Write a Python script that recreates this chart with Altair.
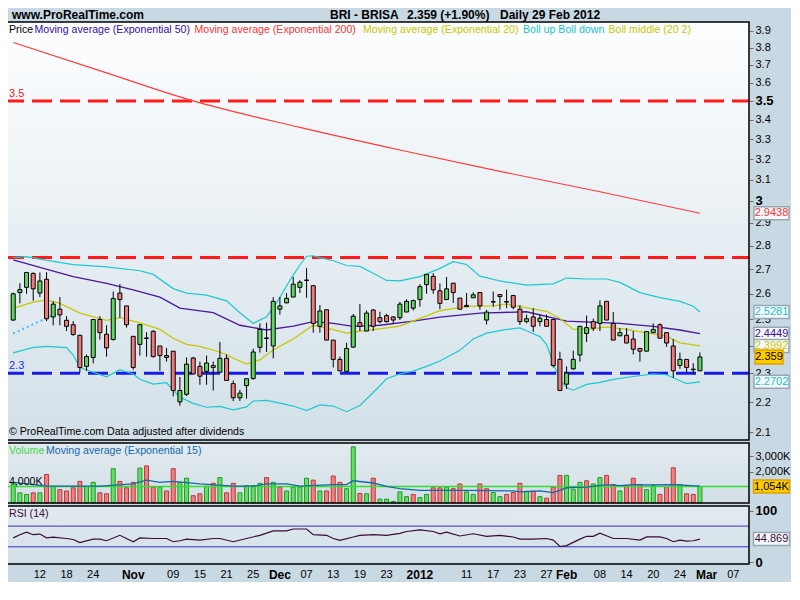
import altair as alt
import pandas as pd

FONT = "Liberation Sans"
BG = "#c9d9e3"

# ------------------------------------------------------------------
# trading-day number t : 0 = 12 Oct 2011 ... 99 = 29 Feb 2012
# (Lisbon closed 26 Dec 2011); 100 = 1 Mar 2012, 104 = 7 Mar 2012
# ------------------------------------------------------------------
day = list(range(-4, 100))

opens = [
    2.497, 2.605, 2.626, 2.683, 2.603, 2.659, 2.509, 2.539, 2.496, 2.479,
    2.439, 2.325, 2.357, 2.499, 2.443, 2.423, 2.603, 2.552, 2.435, 2.405,
    2.427, 2.454, 2.399, 2.364, 2.380, 2.201, 2.227, 2.355, 2.325, 2.307,
    2.321, 2.304, 2.354, 2.264, 2.215, 2.257, 2.282, 2.394, 2.427, 2.399,
    2.539, 2.564, 2.587, 2.626, 2.654, 2.633, 2.473, 2.537, 2.421, 2.350,
    2.307, 2.395, 2.487, 2.455, 2.536, 2.506, 2.514, 2.509, 2.506, 2.528,
    2.543, 2.577, 2.637, 2.671, 2.612, 2.577, 2.643, 2.583, 2.554, 2.584,
    2.605, 2.497, 2.567, 2.597, 2.569, 2.593, 2.539, 2.491, 2.509, 2.491,
    2.499, 2.499, 2.350, 2.262, 2.316, 2.366, 2.446, 2.491, 2.484, 2.570,
    2.484, 2.437, 2.439, 2.425, 2.390, 2.380, 2.449, 2.479, 2.449, 2.399,
    2.328, 2.350, 2.313, 2.309]
highs = [
    2.605, 2.643, 2.687, 2.687, 2.687, 2.688, 2.570, 2.587, 2.512, 2.493,
    2.439, 2.368, 2.499, 2.512, 2.477, 2.609, 2.639, 2.552, 2.435, 2.479,
    2.451, 2.458, 2.399, 2.392, 2.380, 2.287, 2.357, 2.359, 2.342, 2.364,
    2.342, 2.414, 2.368, 2.275, 2.242, 2.281, 2.389, 2.484, 2.487, 2.587,
    2.587, 2.603, 2.668, 2.655, 2.705, 2.633, 2.555, 2.537, 2.421, 2.360,
    2.411, 2.520, 2.559, 2.534, 2.539, 2.529, 2.521, 2.512, 2.568, 2.578,
    2.577, 2.639, 2.679, 2.684, 2.642, 2.668, 2.643, 2.583, 2.603, 2.606,
    2.606, 2.537, 2.609, 2.597, 2.617, 2.593, 2.555, 2.518, 2.543, 2.518,
    2.518, 2.499, 2.378, 2.325, 2.382, 2.473, 2.514, 2.502, 2.574, 2.570,
    2.528, 2.466, 2.466, 2.455, 2.390, 2.453, 2.484, 2.484, 2.449, 2.425,
    2.375, 2.350, 2.336, 2.375]
lows = [
    2.494, 2.562, 2.600, 2.572, 2.587, 2.493, 2.477, 2.477, 2.455, 2.437,
    2.304, 2.309, 2.336, 2.423, 2.360, 2.419, 2.506, 2.468, 2.313, 2.364,
    2.360, 2.357, 2.309, 2.342, 2.220, 2.188, 2.221, 2.295, 2.260, 2.260,
    2.240, 2.304, 2.275, 2.204, 2.204, 2.212, 2.277, 2.375, 2.377, 2.354,
    2.518, 2.562, 2.587, 2.603, 2.584, 2.449, 2.449, 2.421, 2.321, 2.307,
    2.307, 2.392, 2.455, 2.455, 2.455, 2.484, 2.487, 2.484, 2.497, 2.528,
    2.534, 2.549, 2.600, 2.600, 2.539, 2.577, 2.564, 2.539, 2.547, 2.584,
    2.537, 2.480, 2.549, 2.537, 2.543, 2.539, 2.478, 2.484, 2.452, 2.473,
    2.473, 2.321, 2.240, 2.245, 2.313, 2.342, 2.414, 2.455, 2.455, 2.497,
    2.421, 2.437, 2.410, 2.368, 2.342, 2.380, 2.449, 2.428, 2.396, 2.284,
    2.316, 2.304, 2.298, 2.309]
closes = [
    2.600, 2.617, 2.687, 2.620, 2.652, 2.502, 2.559, 2.517, 2.473, 2.442,
    2.321, 2.360, 2.499, 2.449, 2.392, 2.581, 2.577, 2.479, 2.321, 2.479,
    2.429, 2.360, 2.364, 2.357, 2.240, 2.240, 2.333, 2.298, 2.290, 2.337,
    2.328, 2.354, 2.275, 2.215, 2.231, 2.281, 2.377, 2.461, 2.429, 2.570,
    2.552, 2.582, 2.639, 2.647, 2.656, 2.484, 2.532, 2.421, 2.350, 2.309,
    2.390, 2.512, 2.473, 2.524, 2.473, 2.491, 2.491, 2.497, 2.559, 2.570,
    2.573, 2.629, 2.679, 2.616, 2.562, 2.620, 2.605, 2.539, 2.549, 2.596,
    2.552, 2.528, 2.569, 2.589, 2.567, 2.547, 2.491, 2.502, 2.473, 2.504,
    2.473, 2.328, 2.240, 2.301, 2.350, 2.473, 2.468, 2.466, 2.552, 2.497,
    2.421, 2.449, 2.410, 2.387, 2.380, 2.453, 2.461, 2.428, 2.410, 2.309,
    2.350, 2.321, 2.315, 2.359]

# volume in thousands of shares and bar colour (g = up, r = down)
volume_k = [
    1320, 650, 548, 650, 650, 1827, 1056, 853, 771, 974,
    1380, 1056, 1320, 650, 589, 2192, 1380, 974, 1320, 2233,
    2375, 1015, 1015, 771, 2192, 1320, 1583, 467, 589, 1076,
    1259, 1624, 650, 1259, 650, 1117, 1117, 1259, 1624, 1320,
    1015, 771, 1015, 1015, 1583, 1462, 771, 771, 1726, 1320,
    914, 3593, 609, 589, 1583, 244, 244, 102, 711, 406,
    548, 345, 548, 974, 974, 1015, 914, 1218, 711, 548,
    1218, 914, 670, 406, 548, 670, 1259, 751, 751, 406,
    305, 1015, 1766, 1766, 873, 1320, 1421, 1218, 1624, 1766,
    1177, 771, 1117, 1583, 1177, 853, 1117, 548, 1056, 2253,
    1177, 589, 548, 1054]
volume_dir = ("g g g r g r g r r r "
              "r g g r r g r r r g "
              "r r g r r g g r r g "
              "r g r r g g g g r g "
              "r g g g g r g r r r "
              "g g r g r g g g g g "
              "r g g r r g r r g g "
              "r r g g r r r g r g "
              "r r r g g g r g g r "
              "r g r r r g g r r r "
              "g r r g").split()

# indicator lines read at sample days
ema200_t = [-4, 10, 23, 39, 54, 69, 84, 99]
ema200_v = [3.830, 3.655, 3.500, 3.360, 3.245, 3.140, 3.043, 2.9438]

ema50_t = [-4, 0, 5, 10, 14, 18, 21, 26, 30, 34, 38, 41, 44, 47, 51, 56, 60, 66,
           73, 79, 87, 92, 96, 99]
ema50_v = [2.740, 2.708, 2.670, 2.642, 2.616, 2.587, 2.543, 2.526, 2.477, 2.459,
           2.474, 2.491, 2.484, 2.473, 2.477, 2.493, 2.508, 2.524, 2.529, 2.493,
           2.484, 2.473, 2.459, 2.4449]

ema20_t = [-4, -1, 1, 3, 6, 10, 12, 15, 18, 20, 22, 24, 27, 31, 33, 35, 38, 41, 44,
           46, 50, 54, 57, 60, 64, 68, 70, 73, 76, 78, 80, 83, 85, 88, 91, 94, 96, 99]
ema20_v = [2.542, 2.567, 2.576, 2.562, 2.524, 2.496, 2.506, 2.486, 2.461, 2.428,
           2.405, 2.398, 2.377, 2.333, 2.348, 2.385, 2.425, 2.477, 2.460, 2.447,
           2.460, 2.474, 2.503, 2.533, 2.550, 2.552, 2.559, 2.544, 2.531, 2.503,
           2.461, 2.463, 2.471, 2.461, 2.448, 2.436, 2.411, 2.3992]

boll_up_t = [-4, -2, 0, 5, 10, 15, 17, 20, 22, 25, 28, 30, 32, 34, 35, 36, 37, 38,
             39, 40, 41, 42, 44, 46, 48, 50, 52, 54, 57, 60, 62, 64, 66, 69, 73, 77,
             79, 82, 85, 87, 90, 93, 96, 98, 99]
boll_up_v = [2.749, 2.753, 2.743, 2.720, 2.710, 2.694, 2.679, 2.621, 2.603, 2.595,
             2.572, 2.525, 2.484, 2.510, 2.545, 2.585, 2.632, 2.676, 2.718, 2.755,
             2.757, 2.749, 2.736, 2.716, 2.712, 2.684, 2.654, 2.652, 2.670, 2.704,
             2.732, 2.720, 2.672, 2.652, 2.635, 2.640, 2.664, 2.660, 2.660, 2.646,
             2.605, 2.585, 2.570, 2.551, 2.5281]

boll_dn_t = [-4, -1, 1, 4, 5, 6, 8, 10, 12, 14, 15, 17, 19, 21, 23, 25, 27, 29, 31,
             32, 34, 36, 38, 40, 42, 44, 46, 48, 50, 52, 54, 56, 58, 60, 63, 65, 67,
             70, 72, 73, 75, 76, 77, 78, 79, 80, 82, 84, 86, 89, 92, 94, 96, 97, 99]
boll_dn_v = [2.374, 2.394, 2.398, 2.393, 2.366, 2.321, 2.304, 2.288, 2.313, 2.298,
             2.279, 2.262, 2.267, 2.217, 2.196, 2.183, 2.186, 2.174, 2.184, 2.204,
             2.206, 2.197, 2.187, 2.172, 2.191, 2.187, 2.168, 2.189, 2.233, 2.281,
             2.298, 2.308, 2.325, 2.344, 2.383, 2.425, 2.447, 2.461, 2.467, 2.456,
             2.434, 2.404, 2.336, 2.277, 2.250, 2.241, 2.261, 2.268, 2.279, 2.289,
             2.298, 2.295, 2.274, 2.264, 2.2702]

boll_mid_t = [-4, 3]
boll_mid_v = [2.446, 2.528]

volema_t = [-4, 1, 9, 14, 16, 18, 20, 24, 29, 32, 34, 37, 39, 44, 46, 47, 50, 52, 54,
            57, 64, 71, 72, 75, 77, 78, 79, 82, 85, 87, 89, 91, 95, 99]
volema_v = [1320, 1076, 1076, 1218, 1462, 1320, 1380, 1218, 1076, 1076, 1218, 1218,
            1076, 1177, 1177, 1421, 1279, 1056, 914, 812, 812, 771, 711, 771, 670,
            812, 974, 1015, 1177, 1117, 1177, 1157, 1177, 1076]

rsi_t = [-4, -3, -2, -1, 0, 1, 2, 4, 5, 6, 8, 9, 10, 12, 14, 15, 17, 19, 20, 21, 22,
         24, 26, 27, 29, 31, 33, 34, 35, 37, 38, 40, 41, 43, 44, 45, 47, 48, 50, 52,
         54, 55, 57, 59, 60, 61, 63, 65, 67, 69, 71, 72, 74, 76, 77, 78, 79, 81, 82,
         83, 84, 86, 88, 90, 91, 93, 94, 95, 96, 97, 98, 99]
rsi_v = [47.2, 53.4, 58.3, 53.4, 54.6, 47.2, 48.5, 46, 44.1, 38, 44.8, 44.8, 41.7,
         52.2, 39.8, 47.2, 46, 46, 39.8, 41.7, 44.8, 43, 46, 46, 39.8, 46, 52.2, 56.5,
         60.7, 60.7, 64.4, 64.4, 53.4, 52.2, 46, 42.3, 49, 52.2, 53.4, 52.2, 56, 59.6,
         62.6, 59.6, 55.2, 58.3, 50.9, 55.2, 50.3, 52.2, 49, 44.8, 44.8, 46, 43, 30.6,
         32.4, 44.8, 50.3, 50.3, 56.5, 46, 46, 43, 49, 49, 46, 39.8, 43, 41.1, 41.7,
         44.869]

red_levels = [3.5, 2.75]
blue_levels = [2.3]
left_level_labels = ["3.5", "2.3"]
vol_level = [1054]
rsi_levels = [70, 30]

price_ticks = [2.1, 2.2, 2.3, 2.4, 2.5, 2.6, 2.7, 2.8, 2.9, 3.0,
               3.1, 3.2, 3.3, 3.4, 3.5, 3.6, 3.7, 3.8, 3.9]
vol_ticks = [2000, 3000]
rsi_ticks = [0, 100]

tick_t = [0, 4, 8, 14, 20, 24, 28, 32, 36, 40, 44, 48, 52, 57, 64, 68, 72, 76, 79,
          84, 88, 92, 96, 100, 104]
tick_text = ["12", "18", "24", "Nov", "09", "15", "21", "25", "Dec", "07", "13",
             "19", "23", "2012", "11", "17", "23", "27", "Feb", "08", "14", "20",
             "24", "Mar", "07"]
tick_bold = [t in ("Nov", "Dec", "2012", "Feb", "Mar") for t in tick_text]

# ------------------------------------------------------------------
# layout (pixels inside the view)
# ------------------------------------------------------------------
W = 745
P_TOP, P_BOT = 14, 432
V_TOP, V_BOT = 435, 495
R_TOP, R_BOT = 498, 556
H = R_BOT

XS = alt.Scale(domain=[-4.632, 105.61], range=[0, W], nice=False, zero=False)
PS = alt.Scale(type="log", domain=[2.0755, 3.9528], range=[P_BOT, P_TOP], nice=False)
VS = alt.Scale(domain=[0, 3837], range=[V_BOT, V_TOP], nice=False, zero=False)
RS = alt.Scale(domain=[-3.3, 108.9], range=[R_BOT, R_TOP], nice=False, zero=False)

X = alt.X("t:Q", scale=XS, axis=None)
ONE = pd.DataFrame({"k": [0]})

GREEN, RED = "#5cd65c", "#f07a7a"
LEG = 10.6


def grad(c0, c1):
    return alt.Gradient(gradient="linear", x1=0, x2=0, y1=0, y2=1,
                        stops=[alt.GradientStop(color=c0, offset=0),
                               alt.GradientStop(color=c1, offset=1)])


def panel_bg(y0, y1, c0, c1):
    return alt.Chart(ONE).mark_rect(fill=grad(c0, c1)).encode(
        x=alt.value(0), x2=alt.value(W), y=alt.value(y0), y2=alt.value(y1))


def panel_border(y0, y1):
    return alt.Chart(ONE).mark_rect(fillOpacity=0, stroke="black", strokeWidth=1.5).encode(
        x=alt.value(0), x2=alt.value(W), y=alt.value(y0), y2=alt.value(y1))


def series(t, v, scale, color, width=1.0, dash=None, interp="linear"):
    d = pd.DataFrame({"t": t, "v": v})
    kw = dict(color=color, strokeWidth=width, interpolate=interp)
    if dash:
        kw["strokeDash"] = dash
    return alt.Chart(d).mark_line(**kw).encode(
        x=X, y=alt.Y("v:Q", scale=scale, axis=None))


def hline(values, scale, color, width, dash=None):
    d = pd.DataFrame({"v": values})
    kw = dict(color=color, strokeWidth=width)
    if dash:
        kw["strokeDash"] = dash
    return alt.Chart(d).mark_rule(**kw).encode(
        x=alt.value(0), x2=alt.value(W), y=alt.Y("v:Q", scale=scale, axis=None))


def txt(s, x, y, color="black", size=LEG, weight="normal", align="left"):
    return alt.Chart(ONE).mark_text(text=s, align=align, baseline="middle", fontSize=size,
                                    fontWeight=weight, color=color, font=FONT).encode(
        x=alt.value(x), y=alt.value(y))


def value_box(value, scale, label, x, w, h, fill, stroke, tcolor):
    d = pd.DataFrame({"v": [value], "s": [label]})
    r = h / w
    shape = f"M-1,-{r:.3f}L1,-{r:.3f}L1,{r:.3f}L-1,{r:.3f}Z"
    b = alt.Chart(d).mark_point(shape=shape, size=w * w, filled=True, fill=fill,
                                stroke=stroke, strokeWidth=1.5, opacity=1, fillOpacity=1).encode(
        x=alt.value(x), y=alt.Y("v:Q", scale=scale, axis=None))
    t = alt.Chart(d).mark_text(fontSize=11, font=FONT, color=tcolor, align="center",
                               baseline="middle").encode(
        x=alt.value(x), y=alt.Y("v:Q", scale=scale, axis=None), text="s:N")
    return [b, t]


# ------------------------------------------------------------------
candles = pd.DataFrame({"t": day, "open": opens, "high": highs, "low": lows,
                        "close": closes, "vol": volume_k, "vdir": volume_dir})

bold_cond = {"condition": {"test": "datum.value == 3 || datum.value == 3.5", "value": "bold"},
             "value": "normal"}
size_cond = {"condition": {"test": "datum.value == 3 || datum.value == 3.5", "value": 13},
             "value": 11}
price_axis = alt.Axis(orient="right", values=price_ticks, title=None, grid=False, domain=False,
                      labelExpr="datum.value == 3 ? '3' : format(datum.value, '.1f')",
                      tickSize=4, tickColor="#66737c", labelFont=FONT, labelFontSize=size_cond,
                      labelFontWeight=bold_cond, labelColor="black", labelPadding=2,
                      labelOverlap=False, labelFlush=False)
vol_axis = alt.Axis(orient="right", values=vol_ticks, title=None, grid=False, domain=False,
                    labelExpr="format(datum.value, ',') + 'K'", tickSize=4, tickColor="#66737c",
                    labelFont=FONT, labelFontSize=11, labelColor="black", labelPadding=2,
                    labelOverlap=False, labelFlush=False)
rsi_axis = alt.Axis(orient="right", values=rsi_ticks, title=None, grid=False, domain=False,
                    tickSize=4, tickColor="#66737c", labelFont=FONT, labelFontSize=13,
                    labelFontWeight="bold", labelColor="black", labelPadding=2,
                    labelOverlap=False, labelFlush=False)

wick = alt.Chart(candles).mark_rule(color="black", strokeWidth=1).encode(
    x=X, y=alt.Y("low:Q", scale=PS, axis=price_axis), y2="high:Q")
body = alt.Chart(candles).mark_bar(size=4, stroke="black", strokeWidth=1).encode(
    x=X, y=alt.Y("open:Q", scale=PS, axis=None), y2="close:Q",
    fill=alt.condition("datum.close >= datum.open", alt.value(GREEN), alt.value(RED)))

vol_bars = alt.Chart(candles).mark_bar(size=4, strokeWidth=1).encode(
    x=X, y=alt.Y("vol:Q", scale=VS, axis=vol_axis), y2=alt.datum(0),
    fill=alt.condition("datum.vdir == 'g'", alt.value("#66dd66"), alt.value("#f08080")),
    stroke=alt.condition("datum.vdir == 'g'", alt.value("#1f9a1f"), alt.value("#b83a3a")))

rsi_df = pd.DataFrame({"t": rsi_t, "v": rsi_v})
rsi_line = alt.Chart(rsi_df).mark_line(color="#3a0a3a", strokeWidth=1.2).encode(
    x=X, y=alt.Y("v:Q", scale=RS, axis=rsi_axis))

lvl_df = pd.DataFrame({"v": red_levels[:1] + blue_levels, "s": left_level_labels})
lvl_red_lbl = alt.Chart(lvl_df.iloc[:1]).mark_text(align="left", baseline="middle", dy=-7,
                                                    fontSize=11, font=FONT, color="#ee2222").encode(
    x=alt.value(5), y=alt.Y("v:Q", scale=PS, axis=None), text="s:N")
lvl_blue_lbl = alt.Chart(lvl_df.iloc[1:]).mark_text(align="left", baseline="middle", dy=-7,
                                                     fontSize=11, font=FONT, color="#2233dd").encode(
    x=alt.value(5), y=alt.Y("v:Q", scale=PS, axis=None), text="s:N")

ticks_df = pd.DataFrame({"t": tick_t, "label": tick_text, "bold": tick_bold})
xlab_reg = alt.Chart(ticks_df).transform_filter("!datum.bold").mark_text(
    baseline="middle", fontSize=11, font=FONT, color="black").encode(
    x=X, y=alt.value(567), text="label:N")
xlab_bold = alt.Chart(ticks_df).transform_filter("datum.bold").mark_text(
    baseline="middle", fontSize=12, fontWeight="bold", font=FONT, color="black").encode(
    x=X, y=alt.value(567), text="label:N")

layers = [
    panel_bg(P_TOP, P_BOT, "#fdfeff", "#d3e0e8"),
    panel_bg(V_TOP, V_BOT, "#e2ebf0", "#d2dee6"),
    panel_bg(R_TOP, R_BOT, "#e2ebf0", "#d2dee6"),
    hline(red_levels, PS, "#ff1a1a", 3, [20, 8]),
    hline(blue_levels, PS, "#1a1ae6", 3, [20, 8]),
    series(boll_up_t, boll_up_v, PS, "#1cc9cf", 1.2),
    series(boll_dn_t, boll_dn_v, PS, "#1cc9cf", 1.2),
    series(boll_mid_t, boll_mid_v, PS, "#55b8f0", 2, [2, 3]),
    series(ema200_t, ema200_v, PS, "#ff3b3b", 1.2, interp="monotone"),
    series(ema50_t, ema50_v, PS, "#4a169e", 1.3),
    series(ema20_t, ema20_v, PS, "#c8c800", 1.3),
    wick, body,
    vol_bars,
    hline(vol_level, VS, "#33dd33", 1.5),
    series(volema_t, volema_v, VS, "#1668a8", 1.3),
    hline(rsi_levels, RS, "#3030c8", 1),
    rsi_line,
    panel_border(P_TOP, P_BOT),
    panel_border(V_TOP, V_BOT),
    panel_border(R_TOP, R_BOT),
    lvl_red_lbl, lvl_blue_lbl,
    xlab_reg, xlab_bold,
    # title row
    txt("www.ProRealTime.com", 8, 7, size=12, weight="bold"),
    txt("BRI - BRISA", 326, 7, size=12, weight="bold"),
    txt("2.359 (+1.90%)", 403, 7, size=12, weight="bold"),
    txt("Daily  29 Feb 2012", 496, 7, size=12, weight="bold"),
    # price legend
    txt("Price", 5, 22),
    txt("Moving average (Exponential 50)", 30.5, 22, color="#3a0ca3"),
    txt("Moving average (Exponential 200)", 190.5, 22, color="#ff3333"),
    txt("Moving average (Exponential 20)", 359, 22, color="#c8c800"),
    txt("Boll up Boll down", 519, 22, color="#14c4cc"),
    txt("Boll middle (20 2)", 604.5, 22, color="#c8c800"),
    txt("\u00a9 ProRealTime.com  Data adjusted after dividends", 5, 424),
    # volume / rsi legends
    txt("Volume", 5, 443, color="#44d444"),
    txt("Moving average (Exponential 15)", 42, 443, color="#1668a8"),
    txt("4,000K", 5, 474),
    txt("RSI (14)", 5, 506, color="#3a0a3a"),
]

LBX = 767.5
layers += value_box(ema200_v[-1], PS, f"{ema200_v[-1]:.4f}", LBX, 35, 13, "#f6f9fb", "#98a8b3", "#ff3333")
layers += value_box(boll_up_v[-1], PS, f"{boll_up_v[-1]:.4f}", LBX, 35, 13, "#f6f9fb", "#98a8b3", "#14c4cc")
layers += value_box(ema50_v[-1], PS, f"{ema50_v[-1]:.4f}", LBX, 35, 13, "#f6f9fb", "#98a8b3", "#3a0ca3")
layers += value_box(ema20_v[-1], PS, f"{ema20_v[-1]:.4f}", LBX, 35, 13, "#f6f9fb", "#98a8b3", "#c8c800")
layers += value_box(boll_dn_v[-1], PS, f"{boll_dn_v[-1]:.4f}", LBX, 35, 13, "#f6f9fb", "#98a8b3", "#14c4cc")
layers += value_box(closes[-1], PS, f"{closes[-1]:.3f}", 765, 28, 14, "#ffcc00", "#e0a000", "black")
layers += value_box(volume_k[-1], VS, f"{volume_k[-1]:,}K", LBX, 36, 13, "#ffcc00", "#e0a000", "black")
layers += value_box(rsi_v[-1], RS, f"{rsi_v[-1]:.3f}", LBX, 36, 13, "#f6f9fb", "#98a8b3", "#3a0a3a")

chart = alt.layer(*layers).resolve_scale(y="independent").properties(
    width=W, height=H,
    padding={"left": -4, "top": 0, "right": 42, "bottom": 18},
    autosize=alt.AutoSizeParams(type="none"),
    background=BG,
).configure_view(stroke=None).configure_text(font=FONT)

chart.save("out.html", embed_options={"renderer": "svg", "actions": False})
